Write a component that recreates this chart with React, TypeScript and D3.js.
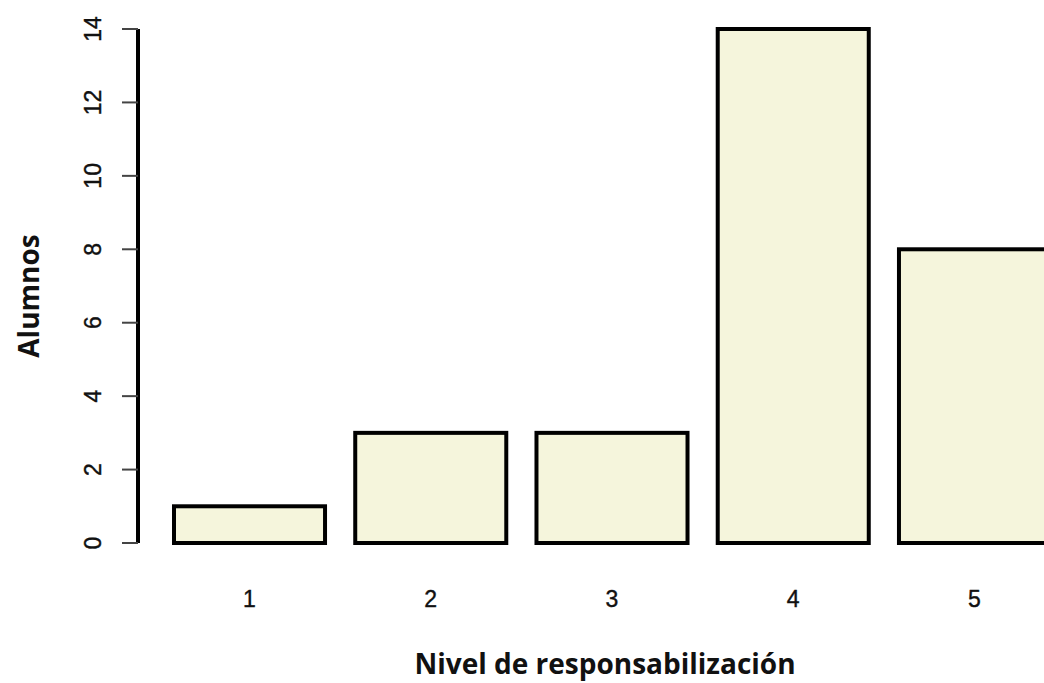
import { useRef, useEffect } from 'react'
import * as d3 from 'd3'

const categories = ['1', '2', '3', '4', '5']
const alumnos = [1, 3, 3, 14, 8]
const yTicks = [0, 2, 4, 6, 8, 10, 12, 14]

const BarChart = () => {
  const chartRef = useRef<SVGSVGElement>(null)

  useEffect(() => {
    if (!chartRef.current) return

    const width = 1044
    const height = 683

    const svg = d3.select(chartRef.current)
    svg.selectAll('*').remove()
    svg.attr('width', width).attr('height', height)

    const x = d3
      .scaleBand<string>()
      .domain(categories)
      .range([174, 1050])
      .paddingInner(1 / 6)
      .paddingOuter(0)

    const y = d3.scaleLinear().domain([0, 14]).range([543, 29])

    // bars
    svg
      .append('g')
      .selectAll('rect')
      .data(alumnos)
      .enter()
      .append('rect')
      .attr('x', (_, i) => x(categories[i])!)
      .attr('y', (d) => y(d))
      .attr('width', x.bandwidth())
      .attr('height', (d) => y(0) - y(d))
      .attr('fill', '#f5f5dc')
      .attr('stroke', '#000')
      .attr('stroke-width', 4)

    // y axis
    const yAxis = svg.append('g')
    yAxis
      .append('line')
      .attr('x1', 138)
      .attr('x2', 138)
      .attr('y1', y(0))
      .attr('y2', y(14))
      .attr('stroke', '#000')
      .attr('stroke-width', 4)
    yAxis
      .selectAll('line.tick')
      .data(yTicks)
      .enter()
      .append('line')
      .attr('class', 'tick')
      .attr('x1', 122)
      .attr('x2', 138)
      .attr('y1', (d) => y(d))
      .attr('y2', (d) => y(d))
      .attr('stroke', '#444')
      .attr('stroke-width', 2)
    yAxis
      .selectAll('text')
      .data(yTicks)
      .enter()
      .append('text')
      .attr('transform', (d) => `translate(101,${y(d)}) rotate(-90)`)
      .attr('text-anchor', 'middle')
      .attr('font-family', 'Liberation Sans, Arial, sans-serif')
      .attr('font-size', 23)
      .attr('fill', '#111')
      .attr('stroke', '#111')
      .attr('stroke-width', 0.4)
      .text((d) => d)

    // x labels
    svg
      .append('g')
      .selectAll('text')
      .data(categories)
      .enter()
      .append('text')
      .attr('x', (d) => x(d)! + x.bandwidth() / 2)
      .attr('y', 607)
      .attr('text-anchor', 'middle')
      .attr('font-family', 'Liberation Sans, Arial, sans-serif')
      .attr('font-size', 23)
      .attr('fill', '#111')
      .attr('stroke', '#111')
      .attr('stroke-width', 0.4)
      .text((d) => d)

    // axis titles
    svg
      .append('text')
      .attr('x', 605)
      .attr('y', 674)
      .attr('text-anchor', 'middle')
      .attr('font-family', 'Open Sans, sans-serif')
      .attr('font-weight', 'bold')
      .attr('font-size', 28)
      .attr('fill', '#111')
      .text('Nivel de responsabilización')

    svg
      .append('text')
      .attr('transform', 'translate(39,296) rotate(-90)')
      .attr('text-anchor', 'middle')
      .attr('font-family', 'Open Sans, sans-serif')
      .attr('font-weight', 'bold')
      .attr('font-size', 28)
      .attr('fill', '#111')
      .text('Alumnos')
  }, [])

  return <svg ref={chartRef} style={{ display: 'block' }} />
}

export default function App() {
  return (
    <div>
      <style>{'body{margin:0;overflow:hidden}'}</style>
      <BarChart />
    </div>
  )
}
